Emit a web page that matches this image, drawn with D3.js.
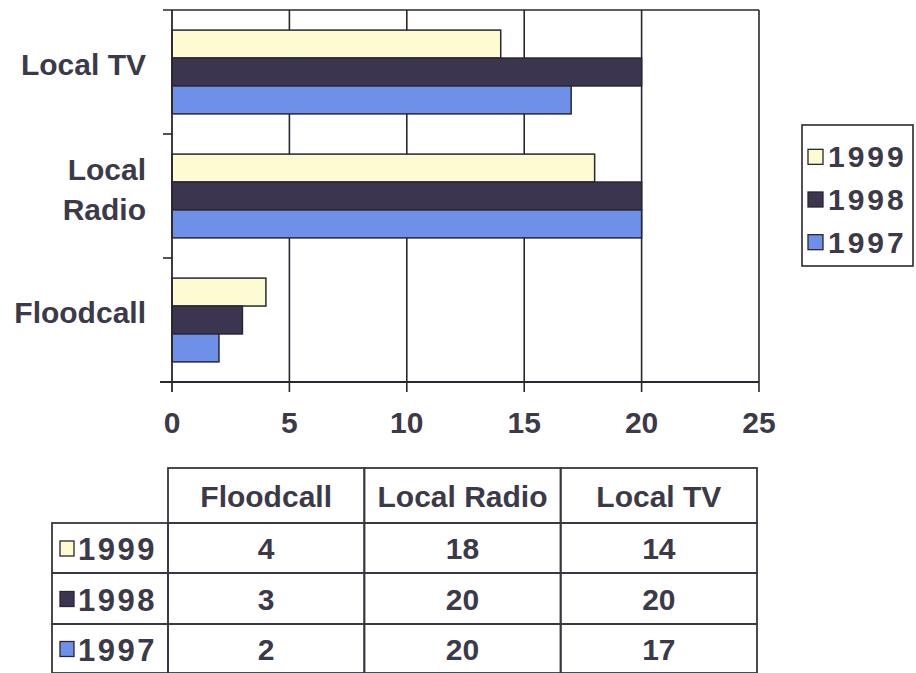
<!DOCTYPE html>
<html>
<head>
<meta charset="utf-8">
<script src="https://cdn.jsdelivr.net/npm/d3@7"></script>
<style>
  body { margin: 0; background: #fff; }
  svg text { font-family: "Liberation Sans", Arial, sans-serif; font-weight: bold; fill: #3c3a48; }
</style>
</head>
<body>
<svg class="chart"></svg>
<script>
// data
var categories = ["Local TV", "Local Radio", "Floodcall"];
var tableCategories = ["Floodcall", "Local Radio", "Local TV"];
var years = ["1999", "1998", "1997"];
var values1999 = [14, 18, 4];
var values1998 = [20, 20, 3];
var values1997 = [17, 20, 2];
var xTicks = [0, 5, 10, 15, 20, 25];
var colors = ["#fdfbd2", "#3c3550", "#6f90e8"];

var seriesValues = [values1999, values1998, values1997];

var width = 916, height = 673;
var plotLeft = 172, plotRight = 759, plotTop = 10, plotBottom = 382;

var chart = d3.select(".chart")
  .attr("width", width)
  .attr("height", height);

var x = d3.scaleLinear()
  .domain([0, 25])
  .range([plotLeft, plotRight]);

var y = d3.scaleBand()
  .domain(categories)
  .range([plotTop, plotBottom]);

var ySub = d3.scaleBand()
  .domain(years)
  .range([0, y.bandwidth()])
  .paddingOuter(0.72);

var lineColor = "#2b2630";

// vertical grid lines
chart.selectAll("line.grid")
  .data(xTicks.slice(1))
  .enter()
  .append("line")
  .attr("class", "grid")
  .attr("x1", function(d) { return x(d); })
  .attr("x2", function(d) { return x(d); })
  .attr("y1", plotTop)
  .attr("y2", plotBottom + 10)
  .attr("stroke", lineColor)
  .attr("stroke-width", 1.6);

// top border
chart.append("line")
  .attr("x1", plotLeft - 9).attr("x2", plotRight)
  .attr("y1", plotTop).attr("y2", plotTop)
  .attr("stroke", lineColor)
  .attr("stroke-width", 1.6);

// bars
var group = chart.selectAll("g.cat")
  .data(categories)
  .enter()
  .append("g")
  .attr("class", "cat")
  .attr("transform", function(d) { return "translate(0," + y(d) + ")"; });

group.selectAll("rect")
  .data(function(d, i) {
    return years.map(function(yr, j) { return [yr, seriesValues[j][i], colors[j]]; });
  })
  .enter()
  .append("rect")
  .attr("x", x(0))
  .attr("y", function(d) { return ySub(d[0]); })
  .attr("width", function(d) { return x(d[1]) - x(0); })
  .attr("height", ySub.bandwidth())
  .attr("fill", function(d) { return d[2]; })
  .attr("stroke", lineColor)
  .attr("stroke-width", 1.5);

// left axis with ticks at band edges
chart.append("line")
  .attr("x1", plotLeft).attr("x2", plotLeft)
  .attr("y1", plotTop).attr("y2", plotBottom + 10)
  .attr("stroke", lineColor)
  .attr("stroke-width", 1.8);

chart.selectAll("line.ytick")
  .data(categories.slice(1))
  .enter()
  .append("line")
  .attr("class", "ytick")
  .attr("x1", plotLeft - 9).attr("x2", plotLeft)
  .attr("y1", function(d) { return y(d); })
  .attr("y2", function(d) { return y(d); })
  .attr("stroke", lineColor)
  .attr("stroke-width", 1.6);

// bottom axis
chart.append("line")
  .attr("x1", plotLeft - 12).attr("x2", plotRight)
  .attr("y1", plotBottom).attr("y2", plotBottom)
  .attr("stroke", lineColor)
  .attr("stroke-width", 1.8);

chart.selectAll("text.xlabel")
  .data(xTicks)
  .enter()
  .append("text")
  .attr("class", "xlabel")
  .attr("x", function(d) { return x(d); })
  .attr("y", plotBottom + 51)
  .attr("text-anchor", "middle")
  .style("font-size", "30px")
  .text(function(d) { return d; });

// category labels (Local Radio wraps onto two lines)
chart.selectAll("text.ylabel")
  .data(categories)
  .enter()
  .append("text")
  .attr("class", "ylabel")
  .attr("x", plotLeft - 26)
  .attr("y", function(d) { return y(d) + y.bandwidth() / 2 + 3; })
  .attr("text-anchor", "end")
  .style("font-size", "30px")
  .each(function(d) {
    var t = d3.select(this);
    if (d === "Local Radio") {
      t.append("tspan").attr("x", plotLeft - 26).attr("dy", -19).text("Local");
      t.append("tspan").attr("x", plotLeft - 26).attr("dy", 40).text("Radio");
    } else {
      t.text(d);
    }
  });

// legend
var legendY = d3.scaleBand()
  .domain(years)
  .range([134, 262]);

chart.append("rect")
  .attr("x", 802).attr("y", 125)
  .attr("width", 111).attr("height", 141)
  .attr("fill", "#fff")
  .attr("stroke", lineColor)
  .attr("stroke-width", 1.6);

var legend = chart.selectAll("g.legend")
  .data(years)
  .enter()
  .append("g")
  .attr("class", "legend")
  .attr("transform", function(d) { return "translate(808," + (legendY(d) + legendY.bandwidth() / 2) + ")"; });

legend.append("rect")
  .attr("x", 0).attr("y", -6)
  .attr("width", 15).attr("height", 15)
  .attr("fill", function(d, i) { return colors[i]; })
  .attr("stroke", lineColor)
  .attr("stroke-width", 1.3);

legend.append("text")
  .attr("x", 20)
  .attr("y", 12)
  .style("font-size", "30px")
  .style("letter-spacing", "3px")
  .text(function(d) { return d; });

// data table
var tx = d3.scaleBand()
  .domain(tableCategories)
  .range([168, 757]);

// header row is a bit taller than the data rows
var tableRows = ["header"].concat(years);
var ty = d3.scaleOrdinal()
  .domain(tableRows)
  .range([468, 523, 573, 624]);
var rowH = { "header": 55, "1999": 50, "1998": 51, "1997": 49 };

var tableStroke = "#3a3540";

// header cells
chart.selectAll("rect.hcell")
  .data(tableCategories)
  .enter()
  .append("rect")
  .attr("class", "hcell")
  .attr("x", function(d) { return tx(d); })
  .attr("y", ty("header"))
  .attr("width", tx.bandwidth())
  .attr("height", rowH.header)
  .attr("fill", "none")
  .attr("stroke", tableStroke)
  .attr("stroke-width", 1.8);

chart.selectAll("text.hcell")
  .data(tableCategories)
  .enter()
  .append("text")
  .attr("class", "hcell")
  .attr("x", function(d) { return tx(d) + tx.bandwidth() / 2; })
  .attr("y", ty("header") + rowH.header / 2 + 11)
  .attr("text-anchor", "middle")
  .style("font-size", "30px")
  .text(function(d) { return d; });

years.forEach(function(yr, j) {
  var ry = ty(yr);
  var h = rowH[yr];

  // row label cell
  chart.append("rect")
    .attr("x", 52).attr("y", ry)
    .attr("width", 168 - 52).attr("height", h)
    .attr("fill", "none")
    .attr("stroke", tableStroke)
    .attr("stroke-width", 1.8);

  chart.append("rect")
    .attr("x", 60).attr("y", ry + h / 2 - 7)
    .attr("width", 14).attr("height", 15)
    .attr("fill", colors[j])
    .attr("stroke", lineColor)
    .attr("stroke-width", 1.3);

  chart.append("text")
    .attr("x", 78)
    .attr("y", ry + h / 2 + 12)
    .style("font-size", "31px")
    .style("letter-spacing", "2.5px")
    .text(yr);

  tableCategories.forEach(function(cat) {
    var v = seriesValues[j][categories.indexOf(cat)];
    chart.append("rect")
      .attr("x", tx(cat)).attr("y", ry)
      .attr("width", tx.bandwidth()).attr("height", h)
      .attr("fill", "none")
      .attr("stroke", tableStroke)
      .attr("stroke-width", 1.8);

    chart.append("text")
      .attr("x", tx(cat) + tx.bandwidth() / 2)
      .attr("y", ry + h / 2 + 11)
      .attr("text-anchor", "middle")
      .style("font-size", "30px")
      .text(v);
  });
});
</script>
</body>
</html>
